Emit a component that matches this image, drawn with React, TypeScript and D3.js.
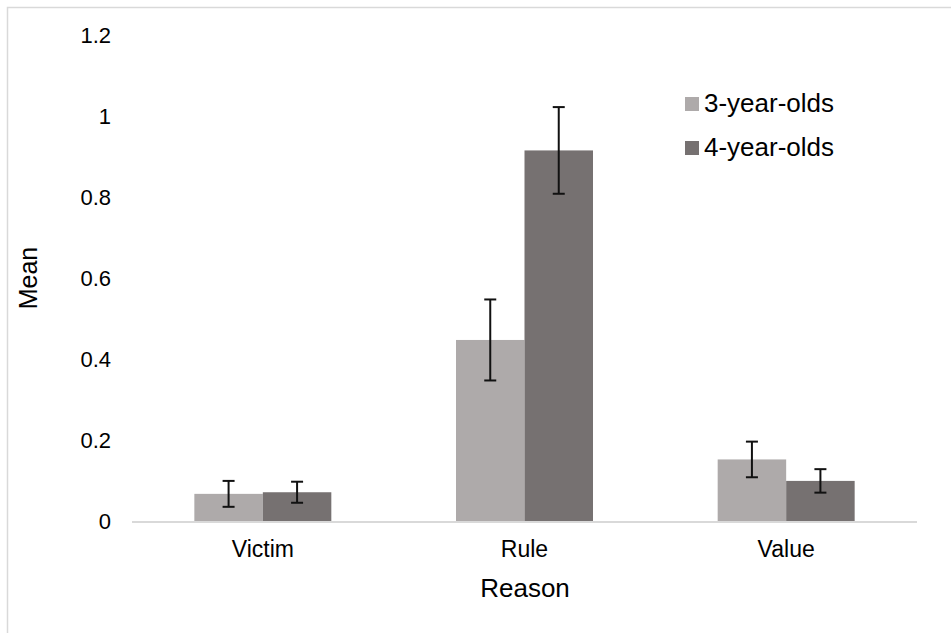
import React, { useEffect, useRef } from 'react';
import * as d3 from 'd3';

const reasons = ['Victim', 'Rule', 'Value'];
const groups = ['3-year-olds', '4-year-olds'];
const means3 = [0.067, 0.447, 0.152];
const means4 = [0.071, 0.915, 0.099];
const se3 = [0.032, 0.1, 0.044];
const se4 = [0.026, 0.107, 0.029];
const yTicks = [0, 0.2, 0.4, 0.6, 0.8, 1, 1.2];
const colors = ['#aeaaaa', '#767171'];

const FONT = '"Liberation Sans", Arial, Helvetica, sans-serif';

export default function App() {
  const ref = useRef<SVGSVGElement>(null);

  useEffect(() => {
    const svg = d3.select(ref.current);
    svg.selectAll('*').remove();

    // outer frame (runs off the right and bottom edges)
    svg.append('rect')
      .attr('x', 7.5).attr('y', 7.5)
      .attr('width', 980).attr('height', 660)
      .attr('fill', 'white')
      .attr('stroke', '#d9d9d9')
      .attr('stroke-width', 1.5);

    const x = d3.scaleBand().domain(reasons).range([132, 917]).paddingInner(0.4765).paddingOuter(0.4765 / 2);
    const xSub = d3.scaleBand().domain(groups).range([0, x.bandwidth()]);
    const y = d3.scaleLinear().domain([0, 1.2]).range([521, 35]);

    // y tick labels
    svg.append('g').selectAll('text')
      .data(yTicks)
      .join('text')
      .attr('x', 111)
      .attr('y', d => y(d) + 8)
      .attr('text-anchor', 'end')
      .style('font-family', FONT)
      .style('font-size', '22px')
      .attr('fill', '#000')
      .text(d => d3.format('~g')(d));

    const rows = reasons.map((r, i) => ({
      reason: r,
      vals: [
        { g: groups[0], m: means3[i], e: se3[i], c: colors[0] },
        { g: groups[1], m: means4[i], e: se4[i], c: colors[1] },
      ],
    }));

    const cat = svg.append('g').selectAll('g')
      .data(rows)
      .join('g')
      .attr('transform', d => `translate(${x(d.reason)},0)`);

    cat.selectAll('rect')
      .data(d => d.vals)
      .join('rect')
      .attr('x', d => xSub(d.g)!)
      .attr('width', xSub.bandwidth())
      .attr('y', d => y(d.m))
      .attr('height', d => y(0) - y(d.m))
      .attr('fill', d => d.c);

    // x axis line
    svg.append('line')
      .attr('x1', 132).attr('x2', 917)
      .attr('y1', y(0) + 1).attr('y2', y(0) + 1)
      .attr('stroke', '#d9d9d9')
      .attr('stroke-width', 2);

    // error bars
    const err = cat.selectAll('g.err')
      .data(d => d.vals)
      .join('g')
      .attr('class', 'err')
      .attr('transform', d => `translate(${xSub(d.g)! + xSub.bandwidth() / 2},0)`);
    err.append('line')
      .attr('y1', d => y(d.m + d.e)).attr('y2', d => y(d.m - d.e))
      .attr('stroke', '#111').attr('stroke-width', 2);
    err.append('line')
      .attr('x1', -6).attr('x2', 6)
      .attr('y1', d => y(d.m + d.e)).attr('y2', d => y(d.m + d.e))
      .attr('stroke', '#111').attr('stroke-width', 2);
    err.append('line')
      .attr('x1', -6).attr('x2', 6)
      .attr('y1', d => y(d.m - d.e)).attr('y2', d => y(d.m - d.e))
      .attr('stroke', '#111').attr('stroke-width', 2);

    // category labels
    svg.append('g').selectAll('text')
      .data(reasons)
      .join('text')
      .attr('x', d => x(d)! + x.bandwidth() / 2)
      .attr('y', 557)
      .attr('text-anchor', 'middle')
      .style('font-family', FONT)
      .style('font-size', '23px')
      .text(d => d);

    // axis titles
    svg.append('text')
      .attr('x', 525).attr('y', 597)
      .attr('text-anchor', 'middle')
      .style('font-family', FONT)
      .style('font-size', '26px')
      .text('Reason');

    svg.append('text')
      .attr('transform', `translate(37,${(y(0) + y(1.2)) / 2}) rotate(-90)`)
      .attr('text-anchor', 'middle')
      .style('font-family', FONT)
      .style('font-size', '25px')
      .text('Mean');

    // legend
    const legend = svg.append('g').selectAll('g')
      .data(groups)
      .join('g')
      .attr('transform', (d, i) => `translate(685,${97 + i * 44})`);
    legend.append('rect')
      .attr('width', 14).attr('height', 14)
      .attr('fill', (d, i) => colors[i]);
    legend.append('text')
      .attr('x', 19).attr('y', 15)
      .style('font-family', FONT)
      .style('font-size', '26px')
      .text(d => d);
  }, []);

  return (
    <svg
      ref={ref}
      width={951}
      height={633}
      style={{ position: 'absolute', left: 0, top: 0, background: 'white' }}
    />
  );
}
